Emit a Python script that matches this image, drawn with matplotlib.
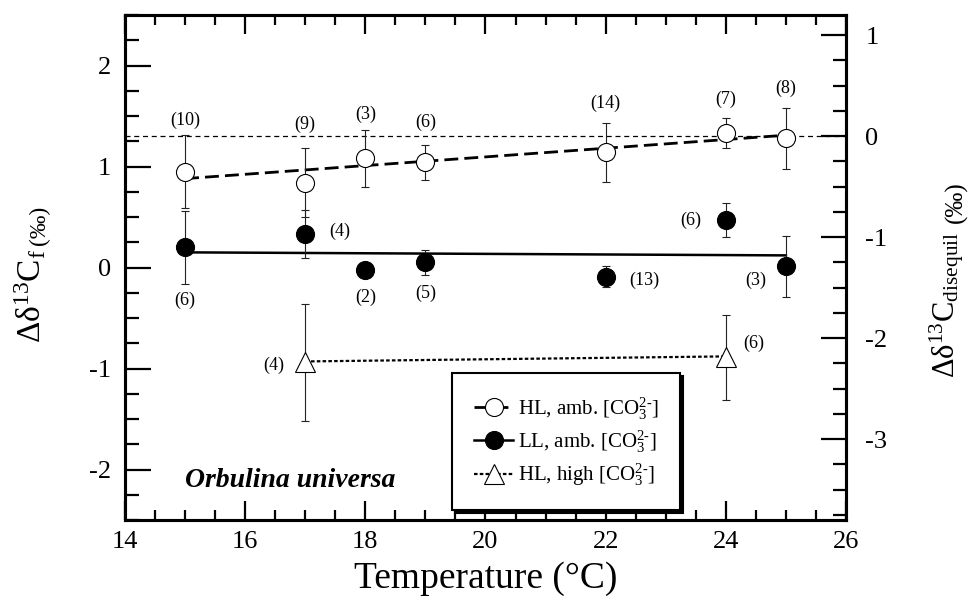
import matplotlib
matplotlib.use('Agg')
import matplotlib.pyplot as plt
from matplotlib.lines import Line2D
from matplotlib.ticker import MultipleLocator

plt.rcParams['font.family'] = ['Liberation Serif', 'DejaVu Serif']
plt.rcParams['mathtext.fontset'] = 'custom'
plt.rcParams['mathtext.rm'] = 'Liberation Serif'
plt.rcParams['mathtext.it'] = 'Liberation Serif:italic'
plt.rcParams['mathtext.bf'] = 'Liberation Serif:bold'
plt.rcParams['axes.unicode_minus'] = False

# ---------------- data ----------------
hl_amb_T = [15, 17, 18, 19, 22, 24, 25]
hl_amb_d = [0.95, 0.84, 1.08, 1.04, 1.14, 1.33, 1.28]
hl_amb_err = [0.36, 0.34, 0.28, 0.17, 0.29, 0.15, 0.30]
hl_amb_n = [10, 9, 3, 6, 14, 7, 8]

ll_amb_T = [15, 17, 18, 19, 22, 24, 25]
ll_amb_d = [0.20, 0.33, -0.02, 0.05, -0.09, 0.47, 0.01]
ll_amb_err = [0.36, 0.24, 0.0, 0.12, 0.10, 0.17, 0.30]
ll_amb_n = [6, 4, 2, 5, 13, 6, 3]

hl_high_T = [17, 24]
hl_high_d = [-0.94, -0.89]
hl_high_err = [0.58, 0.42]
hl_high_n = [4, 6]

# regression lines (end points)
hl_amb_fit_T = [15, 25]
hl_amb_fit_d = [0.88, 1.31]
ll_amb_fit_T = [15, 25]
ll_amb_fit_d = [0.15, 0.12]
hl_high_fit_T = [17, 24]
hl_high_fit_d = [-0.93, -0.88]

equil_level = 1.30  # Δδ13C_f value where Δδ13C_disequil = 0

# label offsets (points) for the (n) annotations -- layout only
hl_amb_off = [(0, 37), (0, 42), (0, 32), (0, 29), (0, 35), (0, 24), (0, 36)]
ll_amb_off = [(0, -38), (25, 2), (0, -20), (0, -22), (28, -3), (-25, 0), (-22, -10)]
hl_high_off = [(-23, -2), (20, 10)]

# ---------------- figure ----------------
fig = plt.figure(figsize=(9.78, 6.0), dpi=100)
ax = fig.add_axes([0.1278, 0.1333, 0.7372, 0.8417])

ax.set_xlim(14, 26)
ax.set_ylim(-2.5, 2.5)

# reference line (disequilibrium = 0)
ax.axhline(equil_level, color='k', lw=0.9, ls=(0, (4, 3)), zorder=1)

# regression lines
ax.plot(hl_amb_fit_T, hl_amb_fit_d, color='k', lw=2.0, ls=(0, (5, 2.2)), zorder=2)
ax.plot(ll_amb_fit_T, ll_amb_fit_d, color='k', lw=1.8, ls='-', zorder=2)
ax.plot(hl_high_fit_T, hl_high_fit_d, color='k', lw=1.6, ls=(0, (1.6, 1.0)), zorder=2)

ekw = dict(fmt='none', ecolor='#222222', elinewidth=0.8, capsize=3, capthick=0.8, zorder=3)
ax.errorbar(hl_amb_T, hl_amb_d, yerr=hl_amb_err, **ekw)
ax.errorbar(ll_amb_T, ll_amb_d, yerr=ll_amb_err, **ekw)
ax.errorbar(hl_high_T, hl_high_d, yerr=hl_high_err, **ekw)

ax.plot(hl_amb_T, hl_amb_d, ls='none', marker='o', ms=13, mfc='white', mec='k', mew=0.8, zorder=4)
ax.plot(ll_amb_T, ll_amb_d, ls='none', marker='o', ms=13, mfc='k', mec='k', mew=0.8, zorder=4)
ax.plot(hl_high_T, hl_high_d, ls='none', marker='^', ms=14, mfc='white', mec='k', mew=0.8, zorder=4)

def label_points(T, d, n, offs):
    for x, y, k, o in zip(T, d, n, offs):
        ax.annotate(f'({k})', (x, y), xytext=o, textcoords='offset points',
                    ha='center', va='center', fontsize=13, zorder=5)

label_points(hl_amb_T, hl_amb_d, hl_amb_n, hl_amb_off)
label_points(ll_amb_T, ll_amb_d, ll_amb_n, ll_amb_off)
label_points(hl_high_T, hl_high_d, hl_high_n, hl_high_off)

ax.text(0.229, 0.079, 'Orbulina universa', transform=ax.transAxes, ha='center', va='center',
        fontsize=20, fontweight='bold', fontstyle='italic')

# ticks
ax.xaxis.set_major_locator(MultipleLocator(2))
ax.xaxis.set_minor_locator(MultipleLocator(0.5))
ax.yaxis.set_major_locator(MultipleLocator(1))
ax.yaxis.set_minor_locator(MultipleLocator(0.25))
ax.tick_params(axis='x', which='major', direction='in', length=14, width=1.6, top=True,
               labelsize=19, pad=8)
ax.tick_params(axis='x', which='minor', direction='in', length=7, width=1.6, top=True)
ax.tick_params(axis='y', which='major', direction='in', length=19, width=1.6, right=False,
               labelsize=19, pad=10)
ax.tick_params(axis='y', which='minor', direction='in', length=10, width=1.6, right=False)
for s in ax.spines.values():
    s.set_linewidth(2.2)

ax2 = ax.twinx()
ax2.set_ylim(-2.5 - equil_level, 2.5 - equil_level)
ax2.yaxis.set_major_locator(MultipleLocator(1))
ax2.yaxis.set_minor_locator(MultipleLocator(0.25))
ax2.tick_params(axis='y', which='major', direction='in', length=18, width=1.6, labelsize=19, pad=14)
ax2.tick_params(axis='y', which='minor', direction='in', length=9.5, width=1.6)
for s in ax2.spines.values():
    s.set_linewidth(2.2)

ax.set_xlabel('Temperature (°C)', fontsize=27, labelpad=6)

# y labels (two-part, with smaller units placed after the main part)
yl = fig.text(31 / 978, 1 - 343 / 600, 'Δδ$^{13}$C$_{\\mathrm{f}}$', rotation=90,
              ha='center', va='bottom', fontsize=24)
fig.canvas.draw()
ax.annotate('(‰)', xy=(0.75, 1.0), xycoords=yl, xytext=(0, 3), textcoords='offset points',
            rotation=90, ha='center', va='bottom', fontsize=17, annotation_clip=False)
yr = fig.text(947 / 978, 1 - 378 / 600, 'Δδ$^{13}$C$_{\\mathrm{disequil}}$', rotation=90,
              ha='center', va='bottom', fontsize=22)
ax.annotate('(‰)', xy=(0.75, 1.0), xycoords=yr, xytext=(0, 6), textcoords='offset points',
            rotation=90, ha='center', va='bottom', fontsize=18, annotation_clip=False)

# legend
handles = [
    Line2D([], [], color='k', lw=2.0, ls=(0, (5, 2.2)), marker='o', ms=13, mfc='white', mec='k', mew=0.8),
    Line2D([], [], color='k', lw=1.8, ls='-', marker='o', ms=13, mfc='k', mec='k', mew=0.8),
    Line2D([], [], color='k', lw=1.6, ls=(0, (1.6, 1.0)), marker='^', ms=14, mfc='white', mec='k', mew=0.8),
]
labels = [r'HL, amb. [CO$_3^{2\text{-}}$]', r'LL, amb. [CO$_3^{2\text{-}}$]', r'HL, high [CO$_3^{2\text{-}}$]']
leg = ax2.legend(handles, labels, loc='lower left', bbox_to_anchor=(0.4535, 0.02),
                 borderaxespad=0, fontsize=15, frameon=True, fancybox=False,
                 shadow={'color': 'k', 'alpha': 1}, edgecolor='k', framealpha=1,
                 handlelength=1.9, handletextpad=0.2, labelspacing=0.32, borderpad=1.05,
                 numpoints=1)
leg.get_frame().set_linewidth(1.5)
leg.set_zorder(10)

fig.savefig('out.png', dpi=100)
